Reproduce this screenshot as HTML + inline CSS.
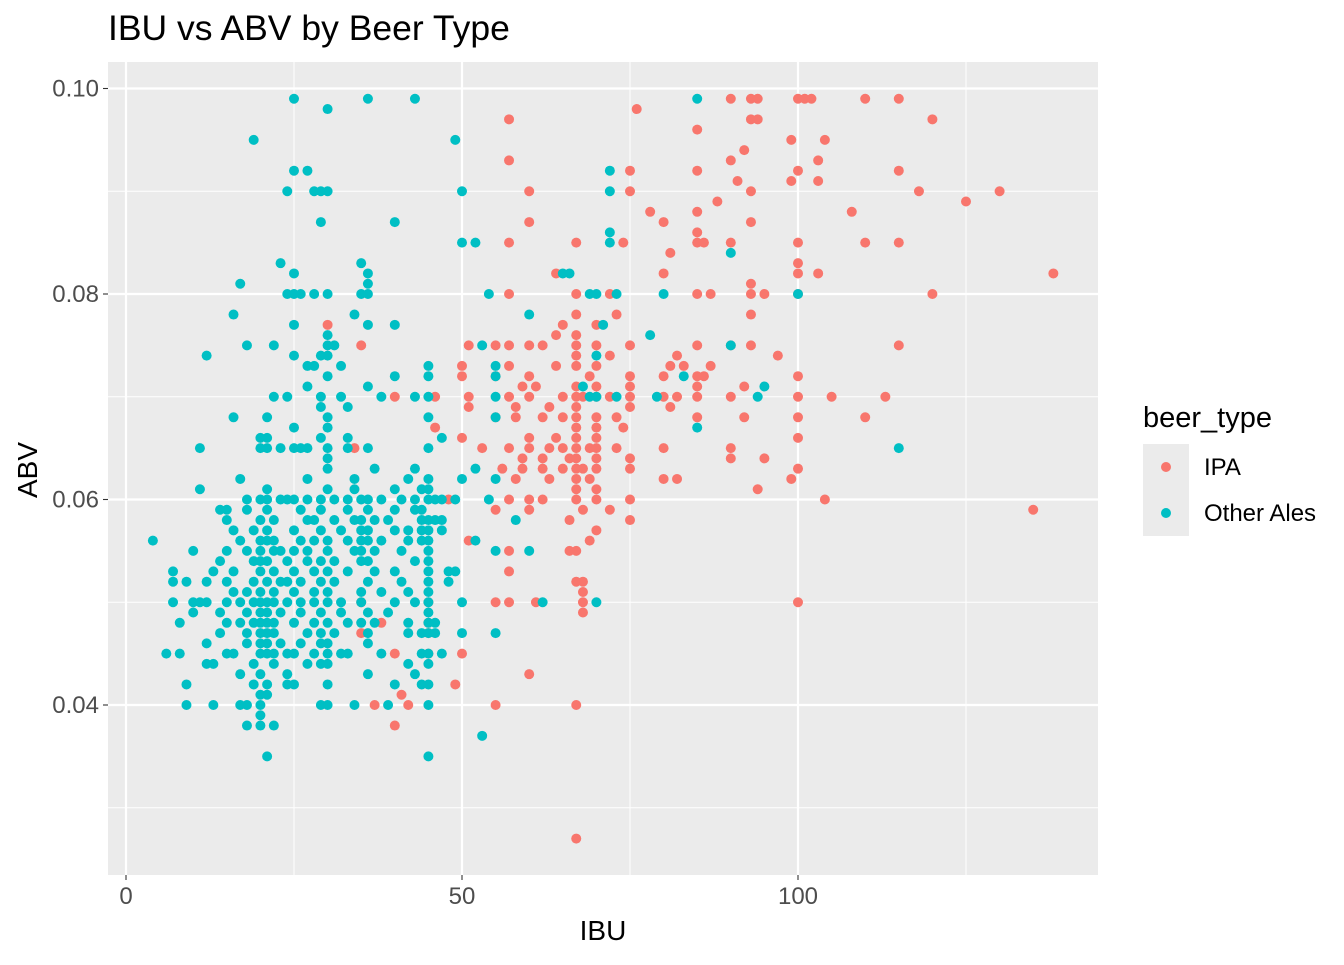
<!DOCTYPE html>
<html><head><meta charset="utf-8"><style>
html,body{margin:0;padding:0;background:#fff;}
svg text{font-family:"Liberation Sans",Arial,sans-serif;}
</style></head><body>
<svg id="chart" width="1344" height="960" xmlns="http://www.w3.org/2000/svg">
<rect width="1344" height="960" fill="#fff"/>
<text x="108" y="40" font-size="35.5" fill="#000">IBU vs ABV by Beer Type</text>
<rect x="108" y="62" width="990" height="813" fill="#EBEBEB"/>
<g id="grid"></g>
<g id="points"></g>
<g id="axes"></g>
<text x="603" y="940" font-size="28" text-anchor="middle">IBU</text>
<text transform="translate(37,470) rotate(-90)" font-size="28" text-anchor="middle">ABV</text>
<g>
<text x="1143" y="427" font-size="29">beer_type</text>
<rect x="1143" y="444" width="46" height="92" fill="#EBEBEB"/>
<circle cx="1166" cy="467" r="5" fill="#F8766D"/>
<circle cx="1166" cy="513" r="5" fill="#00BFC4"/>
<text x="1204" y="475" font-size="24">IPA</text>
<text x="1204" y="521" font-size="24">Other Ales</text>
</g>
</svg>
<script>
const xTicks = [0, 50, 100];
const xMinor = [25, 75, 125];
const yTicks = [0.04, 0.06, 0.08, 0.10];
const yMinor = [0.03, 0.05, 0.07, 0.09];
const yTickLabels = ["0.04", "0.06", "0.08", "0.10"];
const ipaRows = [
[0.099,[90,93,94,100,101,102,110,115]],[0.098,[76]],[0.097,[57,93,94,120]],[0.096,[85]],[0.095,[99,104]],
[0.094,[92]],[0.093,[57,90,103]],[0.092,[75,85,100,115]],[0.091,[91,99,103]],[0.090,[60,75,93,118,130]],
[0.089,[88,125]],[0.088,[78,85,108]],[0.087,[60,80,93]],[0.086,[85]],[0.085,[57,67,74,85,86,90,100,110,115]],
[0.084,[81]],[0.083,[100]],[0.082,[64,80,100,103,138]],[0.081,[93]],[0.080,[57,67,72,85,87,93,95,100,120]],
[0.078,[67,73,93]],[0.077,[30,65,70]],[0.076,[64,67]],[0.075,[35,51,55,57,60,62,67,70,75,85,90,93,115]],
[0.074,[67,72,82,97]],[0.073,[50,57,64,67,70,81,83,87]],[0.072,[50,55,60,69,75,80,85,86,100]],
[0.071,[59,61,67,70,75,85,92]],[0.070,[40,46,51,57,60,65,67,68,70,72,75,80,82,85,90,100,105,113]],
[0.069,[51,58,63,67,75,81]],[0.068,[55,58,62,65,67,70,73,85,92,100,110]],[0.067,[46,67,70,74]],
[0.066,[50,60,64,67,70,100]],[0.065,[34,53,57,60,63,65,67,69,70,73,80,90]],[0.064,[59,62,66,67,70,75,90,95]],
[0.063,[56,59,62,65,67,68,70,75,100]],[0.062,[58,63,67,69,80,82,99]],[0.061,[67,70,94]],
[0.060,[48,57,60,62,67,70,75,104]],[0.059,[55,60,68,72,135]],[0.058,[66,75]],[0.057,[70]],[0.056,[51,69]],
[0.055,[57,66,67]],[0.053,[57]],[0.052,[67,68]],[0.051,[68]],[0.050,[35,45,55,57,61,68,100]],[0.049,[68]],
[0.048,[38,45]],[0.047,[35,45]],[0.045,[40,45,50]],[0.043,[60]],[0.042,[49]],[0.041,[41]],
[0.040,[37,42,55,67]],[0.038,[40]],[0.027,[67]]
];
const otherRows = [
[0.099,[25,36,43,85]],[0.098,[30]],[0.095,[19,49]],[0.092,[25,27,72]],[0.090,[24,28,29,30,50,72]],
[0.087,[29,40]],[0.086,[72]],[0.085,[50,52,72]],[0.084,[90]],[0.083,[23,35]],[0.082,[25,36,65,66]],
[0.081,[17,36]],[0.080,[24,25,26,28,30,35,36,54,69,70,73,80,100]],[0.078,[16,34,60]],[0.077,[25,36,40,71]],
[0.076,[30,78]],[0.075,[18,22,30,31,53,90]],[0.074,[12,25,29,30,70]],[0.073,[27,28,32,45,55]],
[0.072,[30,40,45,55,83]],[0.071,[27,36,68,95]],[0.070,[22,24,29,32,38,43,45,55,69,70,73,79,94]],
[0.069,[29,33]],[0.068,[16,21,30,45,55]],[0.067,[25,30,85]],[0.066,[20,21,29,33,47]],
[0.065,[11,20,21,23,25,26,27,30,33,36,45,115]],[0.064,[30]],[0.063,[30,37,43,52]],[0.062,[17,27,34,42,45,50,55]],
[0.061,[11,21,30,34,40,44,45]],[0.060,[18,20,21,23,24,25,27,29,31,33,35,36,38,41,43,45,46,47,49,54]],
[0.059,[14,15,18,21,26,29,33,36,40,43,44]],[0.058,[15,20,22,27,28,31,34,35,37,39,44,45,46,47,58]],
[0.057,[16,19,21,25,29,32,35,36,40,42,44,45,47]],[0.056,[4,17,20,21,22,26,28,30,33,35,36,38,42,44,45,52]],
[0.055,[10,15,18,20,22,23,25,27,30,34,35,37,41,45,55,60]],[0.054,[14,19,20,21,24,27,29,31,35,36,43,45]],
[0.053,[7,13,16,20,22,25,28,30,33,37,40,45,48,49]],[0.052,[7,9,12,15,19,21,23,24,26,29,31,36,41,45,48]],
[0.051,[16,18,20,22,25,28,30,35,38,42,45]],[0.050,[7,10,11,12,15,17,19,20,21,22,24,26,28,30,32,35,40,43,45,50,62,70]],
[0.049,[10,14,18,20,21,23,26,29,32,36,39,45]],[0.048,[8,15,17,19,20,21,22,25,28,30,33,35,37,42,45,46]],
[0.047,[14,18,20,21,22,27,29,31,36,42,44,45,46,50,55]],[0.046,[12,18,20,21,23,26,29,30,36]],
[0.045,[6,8,15,16,20,21,22,24,25,28,30,32,33,38,44,45,47]],[0.044,[12,13,19,22,27,29,30,42,45]],
[0.043,[17,20,24,36,43]],[0.042,[9,19,21,24,25,30,40,44,45]],[0.041,[20,21]],
[0.040,[9,13,17,18,20,29,30,34,39,45]],[0.039,[20]],[0.038,[18,20,22]],[0.037,[53]],[0.035,[21,45]]
];
const NS = "http://www.w3.org/2000/svg";
const px0 = 108, px1 = 1098, py0 = 62, py1 = 875;
function xs(v){ return 126 + v * 6.72; }
function ys(v){ return 705 - (v - 0.04) * 10275; }
function mk(tag, attrs, parent){
  const e = document.createElementNS(NS, tag);
  for (const k in attrs) e.setAttribute(k, attrs[k]);
  parent.appendChild(e); return e;
}
const grid = document.getElementById('grid');
xMinor.forEach(v => {
  const l = mk('line', {x1: xs(v), x2: xs(v), y1: py0, y2: py1, stroke: '#fff', 'stroke-width': 1}, grid);
  
  
});
yMinor.forEach(v => {
  const l = mk('line', {x1: px0, x2: px1, y1: ys(v), y2: ys(v), stroke: '#fff', 'stroke-width': 1}, grid);
  
  
});
xTicks.forEach(v => {
  const l = mk('line', {x1: xs(v), x2: xs(v), y1: py0, y2: py1, stroke: '#fff', 'stroke-width': 2.2}, grid);
  
  
});
yTicks.forEach(v => {
  const l = mk('line', {x1: px0, x2: px1, y1: ys(v), y2: ys(v), stroke: '#fff', 'stroke-width': 2.2}, grid);
  
  
});
const axes = document.getElementById('axes');
xTicks.forEach(v => {
  const t = mk('line', {x1: xs(v), x2: xs(v), y1: py1, y2: py1 + 5, stroke: '#333', 'stroke-width': 1.1}, axes);
  
  
  const tx = mk('text', {x: xs(v), y: py1 + 29, 'font-size': 24, fill: '#4D4D4D', 'text-anchor': 'middle'}, axes);
  tx.textContent = String(v);
  
  
});
yTicks.forEach((v, i) => {
  const t = mk('line', {x1: px0 - 5, x2: px0, y1: ys(v), y2: ys(v), stroke: '#333', 'stroke-width': 1.1}, axes);
  
  
  const tx = mk('text', {x: px0 - 9, y: ys(v) + 8, 'font-size': 24, fill: '#4D4D4D', 'text-anchor': 'end'}, axes);
  tx.textContent = yTickLabels[i];
  
  
});
const pts = document.getElementById('points');
function drawRows(rows, color, name){
  rows.forEach(r => {
    r[1].forEach(ibu => {
      const c = mk('circle', {cx: xs(ibu), cy: ys(r[0]), r: 5, fill: color}, pts);
      
      
    });
  });
}
drawRows(ipaRows, '#F8766D', 'ipa-point');
drawRows(otherRows, '#00BFC4', 'other-ales-point');
</script>
</body></html>
